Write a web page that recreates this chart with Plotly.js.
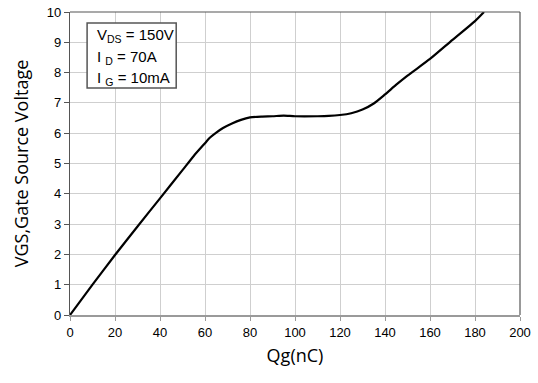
<!DOCTYPE html>
<html>
<head>
<meta charset="utf-8">
<script src="https://cdn.plot.ly/plotly-3.0.1.min.js"></script>
<style>html,body{margin:0;padding:0;background:#fff;}#chart{width:538px;height:383px;}</style>
</head>
<body>
<div id="chart"></div>
<script>
const qg = [0, 10, 20, 30, 40, 50, 55, 60, 62, 65, 68, 72, 76, 80, 85, 90, 95, 100, 110, 115, 120, 125, 130, 135, 140, 145, 150, 160, 170, 180, 184];
const vgs = [0, 1.0, 1.98, 2.92, 3.85, 4.78, 5.25, 5.67, 5.84, 6.02, 6.17, 6.32, 6.44, 6.52, 6.55, 6.56, 6.58, 6.56, 6.56, 6.57, 6.60, 6.66, 6.78, 6.98, 7.28, 7.6, 7.9, 8.45, 9.08, 9.7, 10];
const xTicks = [0, 20, 40, 60, 80, 100, 120, 140, 160, 180, 200];
const yTicks = [0, 1, 2, 3, 4, 5, 6, 7, 8, 9, 10];
const noteLines = ["V<sub>DS</sub> = 150V", "I <sub>D</sub> = 70A", "I <sub>G</sub> = 10mA"];

const trace = {
  x: qg, y: vgs, type: 'scatter', mode: 'lines',
  line: {color: '#000', width: 2.2, shape: 'spline', smoothing: 0.6},
  hoverinfo: 'skip'
};
const tickFont = {family: 'Liberation Sans, Arial, sans-serif', size: 13, color: '#000'};
const noteFont = {family: 'Liberation Sans, Arial, sans-serif', size: 15, color: '#000'};
const noteY = [0.923, 0.851, 0.782];
const annotations = noteLines.map((t, i) => ({
  xref: 'paper', yref: 'paper', x: 0.055, y: noteY[i], xanchor: 'left', yanchor: 'middle',
  text: t, align: 'left', showarrow: false, font: noteFont
}));
const layout = {
  width: 538, height: 383,
  margin: {l: 70, r: 18, t: 12, b: 68},
  paper_bgcolor: '#fff', plot_bgcolor: '#fff',
  showlegend: false,
  xaxis: {
    range: [0, 200], tickvals: xTicks, ticktext: xTicks.map(String),
    showgrid: true, gridcolor: '#cfcfcf', gridwidth: 1,
    zeroline: false, showline: true, linecolor: '#9a9a9a', linewidth: 2, mirror: false,
    ticks: 'outside', ticklen: 4, tickcolor: '#9a9a9a',
    tickfont: tickFont,
    title: {text: 'Qg(nC)', font: {family: 'Open Sans, sans-serif', size: 18, color: '#000'}, standoff: 11}
  },
  yaxis: {
    range: [0, 10], tickvals: yTicks, ticktext: yTicks.map(String),
    showgrid: true, gridcolor: '#cfcfcf', gridwidth: 1,
    zeroline: false, showline: true, linecolor: '#555', linewidth: 1.2,
    ticks: 'outside', ticklen: 5, tickcolor: '#555',
    tickfont: tickFont,
    title: {text: 'VGS,Gate Source Voltage', font: {family: 'Open Sans, sans-serif', size: 18, color: '#000'}, standoff: 13}
  },
  shapes: [
    {type: 'line', xref: 'paper', yref: 'paper', x0: 0, x1: 1, y0: 1, y1: 1, line: {color: '#555', width: 1.2}},
    {type: 'line', xref: 'paper', yref: 'paper', x0: 1, x1: 1, y0: 0, y1: 1, line: {color: '#555', width: 1.2}},
    {type: 'rect', xref: 'paper', yref: 'paper', x0: 0.038, x1: 0.236, y0: 0.749, y1: 0.964,
     fillcolor: '#fff', line: {color: '#555', width: 1.5}, layer: 'above'}
  ],
  annotations: annotations
};
Plotly.newPlot('chart', [trace], layout, {staticPlot: true, displayModeBar: false});
</script>
</body>
</html>
